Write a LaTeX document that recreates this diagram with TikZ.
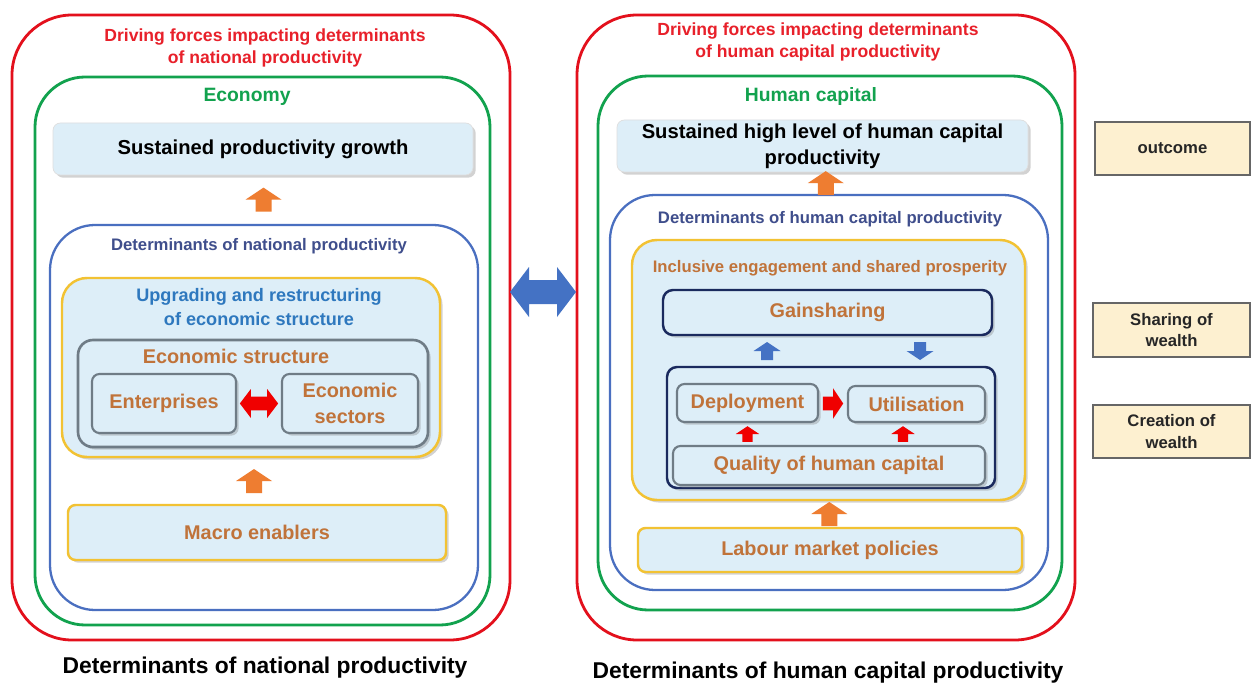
\documentclass[tikz,border=0pt]{standalone}
\usepackage{fontspec}
\setmainfont{Liberation Sans}
\usetikzlibrary{shadows,calc}
\definecolor{redC}{HTML}{E3101C}
\definecolor{greenC}{HTML}{12A24E}
\definecolor{blueC}{HTML}{4A6FC0}
\definecolor{yelC}{HTML}{F2C233}
\definecolor{lblue}{HTML}{DDEEF8}
\definecolor{grayC}{HTML}{6F7C86}
\definecolor{navyC}{HTML}{1A2A5E}
\definecolor{brownT}{HTML}{C0733A}
\definecolor{blueT}{HTML}{2E78BE}
\definecolor{slateT}{HTML}{3F4E8C}
\definecolor{orangeA}{HTML}{EE7D31}
\definecolor{blueA}{HTML}{4472C4}
\definecolor{redA}{HTML}{F00000}
\definecolor{tagF}{HTML}{FDF0D0}
\definecolor{redT}{HTML}{E8202A}
\tikzset{
  fs/.code={\pgfmathsetmacro\fsb{#1*1.3}\edef\fstmp{\noexpand\tikzset{font=\noexpand\bfseries\noexpand\fontsize{#1}{\fsb}\noexpand\selectfont}}\fstmp},
  shad/.style={drop shadow={shadow xshift=1.5pt, shadow yshift=-1.5pt, opacity=0.35, fill=gray}},
  redbox/.style={draw=redC, line width=1.6pt, rounded corners=1.2cm, inner sep=0pt},
  greenbox/.style={draw=greenC, line width=1.6pt, rounded corners=1cm, inner sep=0pt},
  bluebox/.style={draw=blueC, line width=1.3pt, rounded corners=0.9cm, inner sep=0pt},
  yelbox/.style={draw=yelC, line width=1.4pt, fill=lblue, rounded corners=0.5cm, inner sep=0pt, shad},
  yelbar/.style={draw=yelC, line width=1.4pt, fill=lblue, rounded corners=0.15cm, inner sep=0pt, shad, text=brownT, fs=11.3},
  graybox/.style={draw=grayC, line width=1.5pt, fill=lblue, rounded corners=0.3cm, inner sep=0pt, shad},
  innerbox/.style={draw=grayC, line width=1.2pt, fill=lblue, rounded corners=0.15cm, inner sep=0pt, shad, text=brownT, fs=11.3, align=center},
  navybox/.style={draw=navyC, line width=1.4pt, fill=lblue, rounded corners=0.2cm, inner sep=0pt, shad},
  mainbox/.style={draw=gray!25, line width=0.4pt, fill=lblue, rounded corners=0.15cm, inner sep=0pt, shad, text=black, fs=11.5, align=center},
  tagbox/.style={draw=gray!80!black, line width=0.9pt, fill=tagF, inner sep=0pt, fs=9.5, align=center, text=black!85},
  uarr/.pic={\fill[pic actions] (0,-12)--(18,0)--(8,0)--(8,12)--(-8,12)--(-8,0)--(-18,0)--cycle;},
  dbl/.pic={\fill[pic actions] (-33,0)--(-14,-25)--(-14,-12)--(14,-12)--(14,-25)--(33,0)--(14,25)--(14,12)--(-14,12)--(-14,25)--cycle;},
}
% \bx{style}{name}{x1}{y1}{x2}{y2}{text}
\newcommand\bx[7]{\node[#1, minimum width={(#5-#3)*0.02cm}, minimum height={(#6-#4)*0.02cm}] (#2) at ({(#3+#5)/2},{(#4+#6)/2}) {#7};}
\begin{document}
\begin{tikzpicture}[x=0.02cm,y=-0.02cm]
\fill[white] (0,0) rectangle (1252,686);
\useasboundingbox (0,0) rectangle (1252,686);
% ---------------- LEFT ----------------
\bx{redbox}{lred}{12}{15}{510}{640}{}
\node[fs=10, text=redT, align=center] (lredt) at (265,48) {Driving forces impacting determinants\\of national productivity};
\bx{greenbox}{lgreen}{35}{77}{490}{625}{}
\node[fs=11, text=greenC] (lgreent) at (247,97) {Economy};
\bx{mainbox}{lspg}{53}{123}{473}{175}{Sustained productivity growth}
\bx{bluebox}{lblu}{50}{225}{478}{610}{}
\node[fs=9.5, text=slateT] (lblut) at (259,246) {Determinants of national productivity};
\bx{yelbox}{lyel}{62}{278}{440}{457}{}
\node[fs=10.3, text=blueT, align=center] (lyelt) at (259,307) {Upgrading and restructuring\\of economic structure};
\bx{graybox}{lstr}{78}{340}{428}{447}{}
\node[fs=11.3, text=brownT] (lstrt) at (236,356) {Economic structure};
\bx{innerbox}{ent}{92}{374}{236}{433}{Enterprises}
\bx{innerbox}{sec}{282}{374}{418}{433}{Economic\\sectors}
\bx{yelbar}{macro}{68}{505}{446}{560}{Macro enablers}
\pic[fill=redA, scale=0.58] at ($(ent.east)!0.5!(sec.west)$) {dbl};
\pic[fill=orangeA] at ($(lspg.south)!0.5!(lblu.north)$) {uarr};
\pic[fill=orangeA] at ($(lyel.south)!0.5!(macro.north)$) {uarr};
% ---------------- RIGHT ----------------
\bx{redbox}{rred}{577}{15}{1075}{640}{}
\node[fs=10, text=redT, align=center] (rredt) at (818,42) {Driving forces impacting determinants\\of human capital productivity};
\bx{greenbox}{rgreen}{598}{76}{1062}{610}{}
\node[fs=11, text=greenC] (rgreent) at (811,97) {Human capital};
\bx{mainbox}{rspg}{617}{120}{1028}{172}{Sustained high level of human capital\\productivity}
\bx{bluebox}{rblu}{610}{195}{1048}{590}{}
\node[fs=9.5, text=slateT] (rblut) at (830,219) {Determinants of human capital productivity};
\bx{yelbox}{ryel}{632}{240}{1025}{500}{}
\node[fs=9.5, text=brownT] (ryelt) at (830,268) {Inclusive engagement and shared prosperity};
\bx{navybox, text=brownT, fs=11.3}{gain}{663}{290}{992}{335}{Gainsharing}
\bx{navybox}{rnav}{667}{367}{995}{488}{}
\bx{innerbox}{dep}{677}{384}{818}{422}{Deployment}
\bx{innerbox}{util}{848}{386}{985}{422}{Utilisation}
\bx{innerbox}{qual}{673}{446}{985}{485}{Quality of human capital}
\bx{yelbar}{lab}{638}{528}{1022}{572}{Labour market policies}
\coordinate (gm) at ($(gain.south)!0.5!(rnav.north)$);
\coordinate (dm) at ($(dep.south)!0.5!(qual.north)$);
\pic[fill=orangeA] at ($(rspg.south)!0.5!(rblu.north)$) {uarr};
\pic[fill=blueA, scale=0.75] at (767,0 |- gm) {uarr};
\pic[fill=blueA, scale=0.75, rotate=180] at (920,0 |- gm) {uarr};
\pic[fill=redA, scale=0.65] at (dep.south |- dm) {uarr};
\pic[fill=redA, scale=0.65] at (903,0 |- dm) {uarr};
\pic[fill=redA, scale=0.85, rotate=-90] at ($(dep.east)!0.5!(util.west)$) {uarr};
\pic[fill=orangeA] at ($(ryel.south)!0.5!(lab.north)$) {uarr};
% ---------------- middle arrow ----------------
\pic[fill=blueA] at (543,292) {dbl};
% ---------------- tags ----------------
\bx{tagbox}{tout}{1095}{122}{1250}{175}{outcome}
\bx{tagbox}{tshare}{1093}{303}{1250}{357}{Sharing of\\wealth}
\bx{tagbox}{tcreate}{1093}{405}{1250}{458}{Creation of\\wealth}
% ---------------- bottom labels ----------------
\node[fs=13, text=black] (lbot) at (265,668) {Determinants of national productivity};
\node[fs=13, text=black] (rbot) at (828,673) {Determinants of human capital productivity};
\end{tikzpicture}
\end{document}
